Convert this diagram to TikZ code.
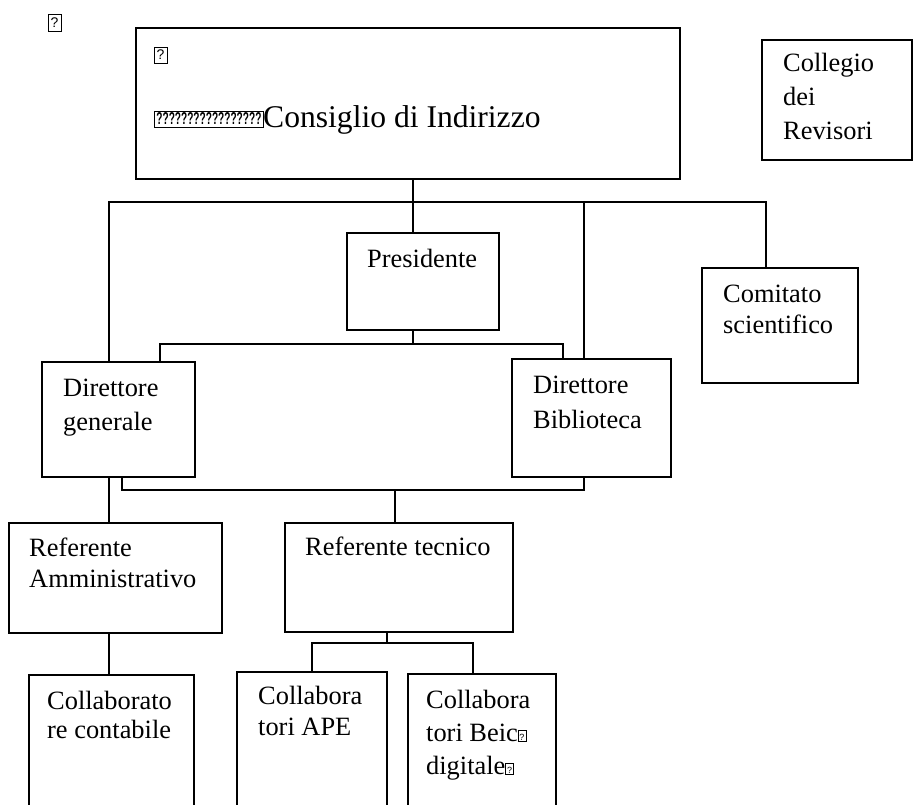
\documentclass[tikz,border=0pt]{standalone}
\usepackage{fontspec}
\usepackage{graphicx}
\setmainfont{Liberation Serif}
\newfontfamily\tofufont{Liberation Sans}
\newcommand{\tofu}{{\setlength{\fboxsep}{0.4pt}\setlength{\fboxrule}{0.5pt}\fbox{\makebox[6.5pt]{\rule{0pt}{10pt}\raisebox{0.8pt}{\tofufont\fontsize{9}{9}\selectfont ?}}}}}
\tikzset{
  box/.style={draw, line width=2pt, rectangle, inner sep=0pt},
  wire/.style={line width=2pt},
  lbl/.style={anchor=base west, inner sep=0pt, font=\fontsize{26.4}{30}\selectfont},
  biglbl/.style={anchor=base west, inner sep=0pt, font=\fontsize{31.6}{36}\selectfont},
  tofubox/.style={draw, line width=0.6pt, inner sep=0pt, minimum width=13pt, minimum height=17pt, font=\tofufont\fontsize{14}{14}\selectfont},
}
\newcommand{\boxat}[5]{\node[box, minimum width={#4-#2}, minimum height={#5-#3}] (#1) at ({(#2+#4)/2},{(#3+#5)/2}) {};}
\begin{document}
\begin{tikzpicture}[x=1pt, y=-1pt]
\fill[white] (0,0) rectangle (913,805);
\clip (0,0) rectangle (913,805);
% boxes
\boxat{cons}{136}{28}{680}{179}
\boxat{coll}{762}{40}{912}{160}
\boxat{pres}{347}{233}{499}{330}
\boxat{comi}{702}{268}{858}{383}
\boxat{dgen}{42}{362}{195}{477}
\boxat{dbib}{512}{359}{671}{477}
\boxat{ramm}{9}{523}{222}{633}
\boxat{rtec}{285}{523}{513}{632}
\boxat{ccon}{29}{675}{194}{840}
\boxat{cape}{237}{672}{387}{840}
\boxat{cbei}{408}{674}{556}{840}
% junction coordinates
\coordinate (jc) at (413,202);
\coordinate (barL) at (109,202);
\coordinate (barB) at (584,202);
\coordinate (barR) at (766,202);
\coordinate (jp) at (413,344);
\coordinate (lbL) at (160,344);
\coordinate (lbR) at (563,344);
\coordinate (bL) at (122,490);
\coordinate (bm) at (395,490);
\coordinate (bR) at (584,490);
\coordinate (tm) at (387,643);
\coordinate (tL) at (312,643);
\coordinate (tR) at (473,643);
% connectors
\draw[wire] (cons.south -| jc) -- (pres.north -| jc);
\draw[wire] (dgen.north -| barL) -- (barL) -- (barR) -- (comi.north -| barR);
\draw[wire] (barB) -- (dbib.north -| barB);
\draw[wire] (pres.south -| jp) -- (jp);
\draw[wire] (dgen.north -| lbL) -- (lbL) -- (lbR) -- (dbib.north -| lbR);
\draw[wire] (dgen.south -| barL) -- (ramm.north -| barL);
\draw[wire] (dgen.south -| bL) -- (bL) -- (bR) -- (dbib.south -| bR);
\draw[wire] (bm) -- (rtec.north -| bm);
\draw[wire] (ramm.south -| barL) -- (ccon.north -| barL);
\draw[wire] (rtec.south -| tm) -- (tm);
\draw[wire] (cape.north -| tL) -- (tL) -- (tR) -- (cbei.north -| tR);
% tofu marks
\node[tofubox] (q1) at (54.5,22.5) {?};
\node[tofubox, minimum height=16pt] (q2) at (160.5,55) {?};
\node[draw, line width=0.8pt, inner sep=0pt, minimum width=109pt, minimum height=16pt, anchor=west] (q3) at (154,119) {\resizebox{105pt}{12pt}{\tofufont\bfseries ?????????????????}};
% texts
\node[biglbl] (tcons) at (263,128) {Consiglio di Indirizzo};
\node[lbl] (tcoll1) at (783,72) {Collegio};
\node[lbl] (tcoll2) at (783,106) {dei};
\node[lbl] (tcoll3) at (783,140) {Revisori};
\node[lbl] (tpres) at (367,267) {Presidente};
\node[lbl] (tcomi1) at (723,302) {Comitato};
\node[lbl] (tcomi2) at (723,333) {scientifico};
\node[lbl] (tdgen1) at (63,396) {Direttore};
\node[lbl] (tdgen2) at (63,430) {generale};
\node[lbl] (tdbib1) at (533,393) {Direttore};
\node[lbl] (tdbib2) at (533,428) {Biblioteca};
\node[lbl] (tramm1) at (29,556) {Referente};
\node[lbl] (tramm2) at (29,587) {Amministrativo};
\node[lbl] (trtec) at (305,555) {Referente tecnico};
\node[lbl] (tccon1) at (47,709) {Collaborato};
\node[lbl] (tccon2) at (47,738) {re contabile};
\node[lbl] (tcape1) at (258,704) {Collabora};
\node[lbl] (tcape2) at (258,735) {tori APE};
\node[lbl] (tcbei1) at (426,708) {Collabora};
\node[lbl] (tcbei2) at (426,741) {tori Beic\tofu};
\node[lbl] (tcbei3) at (426,774) {digitale\tofu};
\end{tikzpicture}
\end{document}
